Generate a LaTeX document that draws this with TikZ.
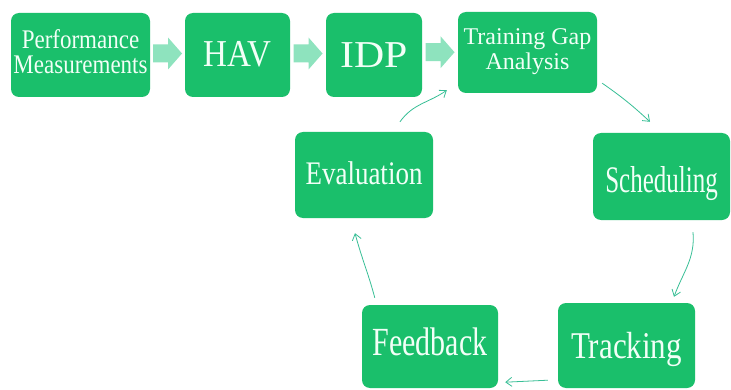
\documentclass[tikz,border=0pt]{standalone}
\usepackage{fontspec}
\setmainfont{Liberation Serif}
\usetikzlibrary{arrows.meta,calc}
\definecolor{boxgreen}{HTML}{1ABF6B}
\definecolor{mint}{HTML}{8EE3BE}
\definecolor{linkteal}{HTML}{38BF96}
\definecolor{paleText}{HTML}{F2FFF7}
\tikzset{
  stagebox/.style={fill=boxgreen, rounded corners=8pt, inner sep=0pt,
    text=paleText, align=center},
  link/.style={draw=linkteal, line width=0.8pt,
    -{Straight Barb[length=6pt,width=9pt,line width=0.8pt]}},
  blockarrow/.style={fill=mint}
}
% size, x-scale, y-scale, baseline offset from the box centre, text
\newcommand{\sized}[5]{\raisebox{#4}[0pt][0pt]{\scalebox{#2}[#3]{\fontsize{#1}{#1}\selectfont #5}}}
\begin{document}
\begin{tikzpicture}[x=1pt,y=1pt]
  \useasboundingbox[fill=white] (0,0) rectangle (731,389);

  % top row
  \node[stagebox, minimum width=139pt, minimum height=84pt] (perf) at (80.5,334)
    {\scalebox{1}[1.17]{\fontsize{23}{20}\selectfont
      \begin{tabular}{@{}c@{}}Performance\\Measurements\end{tabular}}};
  \node[stagebox, minimum width=105pt, minimum height=84pt] (hav) at (237.5,334)
    {\sized{38}{0.87}{1}{-12pt}{HAV}};
  \node[stagebox, minimum width=96pt, minimum height=84pt] (idp) at (374,334)
    {\sized{38}{1.1}{1}{-13pt}{IDP}};
  \node[stagebox, minimum width=139pt, minimum height=81pt] (tga) at (527.5,336.5)
    {\raisebox{3pt}{\fontsize{24}{25}\selectfont
      \begin{tabular}{@{}c@{}}Training Gap\\Analysis\end{tabular}}};

  % cycle
  \node[stagebox, minimum width=137pt, minimum height=87pt] (sched) at (661.5,212.5)
    {\sized{25}{1}{1.5}{-16.5pt}{Scheduling}};
  \node[stagebox, minimum width=137pt, minimum height=85pt] (track) at (626.5,43.5)
    {\sized{31}{1}{1.22}{-12.5pt}{Tracking}};
  \node[stagebox, minimum width=136pt, minimum height=83pt] (feed) at (430,42.5)
    {\sized{30}{1}{1.33}{-8.5pt}{Feedback}};
  \node[stagebox, minimum width=138pt, minimum height=86pt] (eval) at (364,214)
    {\sized{27}{1}{1.22}{-10pt}{Evaluation}};

  % wide block arrows between the top-row boxes
  \foreach \a/\b in {perf/hav, hav/idp, idp/tga}{
    \path ($(\a.east)!0.5!(\b.west)$) coordinate (mid-\a);
    \fill[blockarrow] ([shift={(-14.5,-7.5)}]mid-\a) -- ++(15,0) -- ++(0,-7)
      -- ++(14,16) -- ++(-14,16) -- ++(0,-7) -- ++(-15,0) -- cycle;
  }

  % thin connectors round the cycle
  \draw[link] ([shift={(5,10)}]tga.south east) to[bend left=4]
    ([shift={(-11.5,11)}]sched.north);
  \draw[link] ([shift={(31.5,-12)}]sched.south) to[out=-85,in=70]
    ([shift={(47.5,6)}]track.north);
  \draw[link] ([shift={(-10,8)}]track.south west) --
    ([shift={(7,6)}]feed.south east);
  \draw[link] ([shift={(13,7)}]feed.north west) to[out=105,in=-75]
    ([shift={(-9,-15)}]eval.south);
  \draw[link] ([shift={(36,10)}]eval.north) to[out=55,in=-145]
    ([shift={(-11,3)}]tga.south west);
\end{tikzpicture}
\end{document}
